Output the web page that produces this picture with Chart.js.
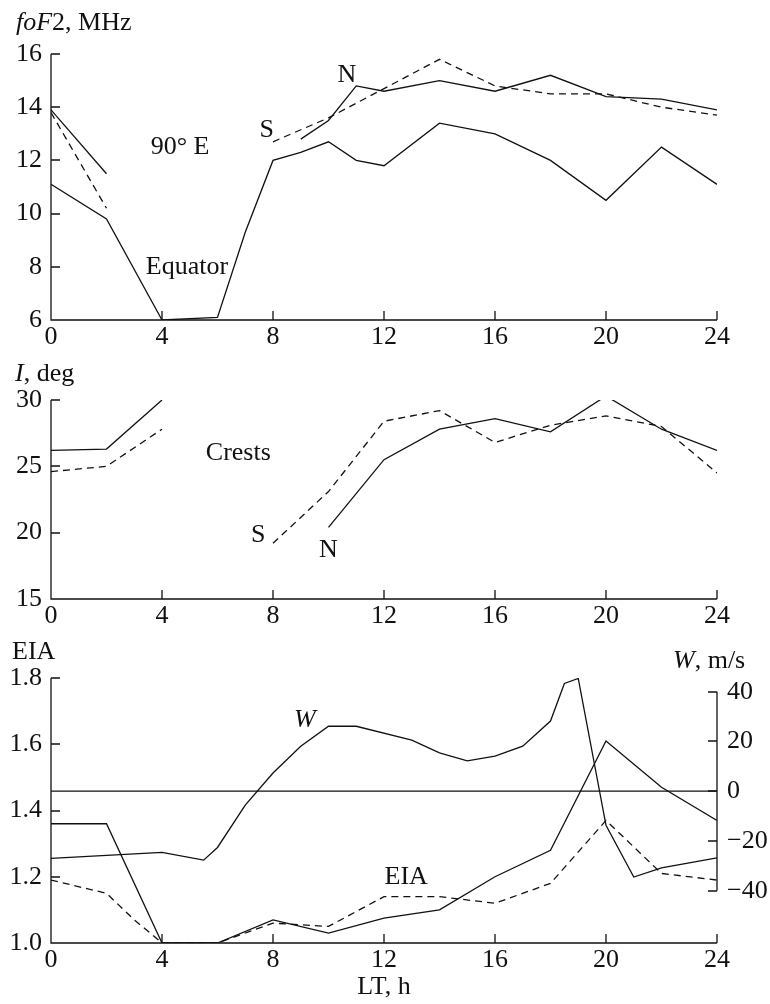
<!DOCTYPE html>
<html>
<head>
<meta charset="utf-8">
<script src="https://cdn.jsdelivr.net/npm/chart.js@4.4.1/dist/chart.umd.min.js"></script>
<style>
  body { margin: 0; background: #fff; width: 770px; height: 1004px; overflow: hidden; position: relative; }
  canvas { position: absolute; left: 0; }
</style>
</head>
<body>
<canvas id="c1" width="770" height="350" style="top:0"></canvas>
<canvas id="c2" width="770" height="280" style="top:350px"></canvas>
<canvas id="c3" width="770" height="374" style="top:630px"></canvas>
<script>
// ---- top panel: foF2, 90 E ----
const eqHours = [0, 2, 4, 6, 7, 8, 9, 10, 11, 12, 14, 16, 18, 20, 22, 24];
const eqFoF2  = [11.1, 9.8, 6.0, 6.1, 9.3, 12.0, 12.3, 12.7, 12.0, 11.8, 13.4, 13.0, 12.0, 10.5, 12.5, 11.1];
const nHoursNight = [0, 2];
const nFoF2Night  = [13.9, 11.5];
const sHoursNight = [0, 2];
const sFoF2Night  = [13.8, 10.2];
const nHoursDay = [9, 10, 11, 12, 14, 16, 18, 20, 22, 24];
const nFoF2Day  = [12.8, 13.5, 14.8, 14.6, 15.0, 14.6, 15.2, 14.4, 14.3, 13.9];
const sHoursDay = [8, 10, 12, 14, 16, 18, 20, 22, 24];
const sFoF2Day  = [12.7, 13.6, 14.7, 15.8, 14.8, 14.5, 14.5, 14.0, 13.7];
const foF2Ticks = [6, 8, 10, 12, 14, 16];

// ---- middle panel: crest inclination ----
const nIHoursNight = [0, 2, 4];
const nINight      = [26.2, 26.3, 30.0];
const sIHoursNight = [0, 2, 4];
const sINight      = [24.6, 25.0, 27.8];
const nIHoursDay = [10, 12, 14, 16, 18, 20, 22, 24];
const nIDay      = [20.4, 25.5, 27.8, 28.6, 27.6, 30.3, 27.8, 26.2];
const sIHoursDay = [8, 10, 12, 14, 16, 18, 20, 22, 24];
const sIDay      = [19.2, 23.1, 28.4, 29.2, 26.8, 28.1, 28.8, 28.0, 24.5];
const incTicks = [15, 20, 25, 30];

// ---- bottom panel: EIA and drift W ----
const eiaHours = [0, 2, 4, 6, 8, 10, 12, 14, 16, 18, 20, 22, 24];
const eiaSolid = [1.36, 1.36, 1.0, 1.0, 1.07, 1.03, 1.075, 1.10, 1.20, 1.28, 1.61, 1.47, 1.37];
const eiaDashHours = [0, 2, 3, 4, 6, 8, 10, 12, 14, 16, 18, 20, 22, 24];
const eiaDashed    = [1.19, 1.15, 1.07, 1.0, 1.0, 1.06, 1.05, 1.14, 1.14, 1.12, 1.18, 1.37, 1.21, 1.19];
const wHours  = [0, 4, 5.5, 6, 7, 8, 9, 10, 11, 13, 14, 15, 16, 17, 18, 18.5, 19, 20, 21, 22, 24];
const wValues = [-27.0, -24.6, -27.7, -22.6, -5.6, 7.3, 18.1, 26.1, 26.1, 20.5, 15.4, 12.2, 14.1, 18.1, 28.2, 43.3, 45.3, -13.7, -34.5, -30.8, -26.8];
const eiaTicks = [1.0, 1.2, 1.4, 1.6, 1.8];
const wTicks = [-40, -20, 0, 20, 40];

const hourTicks = [0, 4, 8, 12, 16, 20, 24];

const ink = '#111';
const FONT = '"Liberation Serif", "Times New Roman", serif';
const SIZE = 26;

function pts(xs, ys) {
  return xs.map((x, i) => ({ x: x, y: ys[i] }));
}

function line(xs, ys, dashed, axis) {
  return {
    data: pts(xs, ys),
    borderColor: ink,
    borderWidth: 1.3,
    borderDash: dashed ? [7, 5] : [],
    pointRadius: 0,
    tension: 0,
    yAxisID: axis || 'y'
  };
}

function rich(ctx, parts, x, y, align) {
  let w = 0;
  parts.forEach(p => {
    ctx.font = (p[1] ? 'italic ' : '') + SIZE + 'px ' + FONT;
    w += ctx.measureText(p[0]).width;
  });
  if (align === 'center') x -= w / 2;
  parts.forEach(p => {
    ctx.font = (p[1] ? 'italic ' : '') + SIZE + 'px ' + FONT;
    ctx.fillText(p[0], x, y);
    x += ctx.measureText(p[0]).width;
  });
}

// axis lines with inward ticks, plus the text on the panel
const frame = {
  id: 'frame',
  afterDatasetsDraw(chart, args, opts) {
    const ctx = chart.ctx, a = chart.chartArea;
    const sx = chart.scales.x, sy = chart.scales.y, s2 = chart.scales.y2;
    ctx.save();
    ctx.strokeStyle = ink;
    ctx.lineWidth = 1.3;
    ctx.setLineDash([]);
    ctx.beginPath();
    ctx.moveTo(a.left, a.top);
    ctx.lineTo(a.left, a.bottom);
    ctx.lineTo(a.right, a.bottom);
    sx.ticks.forEach(t => {
      const px = Math.round(sx.getPixelForValue(t.value));
      if (px <= a.left + 1) return;
      ctx.moveTo(px, a.bottom);
      ctx.lineTo(px, a.bottom - 9);
    });
    sy.ticks.forEach(t => {
      const py = Math.round(sy.getPixelForValue(t.value));
      ctx.moveTo(a.left, py);
      ctx.lineTo(a.left + 9, py);
    });
    if (s2) {
      const top = s2.getPixelForValue(wTicks[wTicks.length - 1]);
      const bot = s2.getPixelForValue(wTicks[0]);
      ctx.moveTo(a.right, top);
      ctx.lineTo(a.right, bot);
      s2.ticks.forEach(t => {
        const py = Math.round(s2.getPixelForValue(t.value));
        ctx.moveTo(a.right, py);
        ctx.lineTo(a.right - 9, py);
      });
    }
    ctx.stroke();

    ctx.fillStyle = ink;
    ctx.textBaseline = 'alphabetic';
    (opts.titles || []).forEach(t => rich(ctx, t.parts, t.x, t.y, t.align));
    ctx.textBaseline = 'middle';
    (opts.notes || []).forEach(n => {
      const sc = chart.scales[n.axis || 'y'];
      rich(ctx, n.parts, sx.getPixelForValue(n.h), sc.getPixelForValue(n.v), 'center');
    });
    ctx.restore();
  }
};

function fixTicks(list) {
  return function (scale) { scale.ticks = list.map(v => ({ value: v })); };
}

function baseOptions(cfg) {
  const scales = {
    x: {
      type: 'linear', min: 0, max: 24,
      afterBuildTicks: fixTicks(hourTicks),
      afterFit: s => { s.height = cfg.xHeight; },
      grid: { display: false, drawTicks: false },
      border: { display: false },
      ticks: { color: ink, font: { family: FONT, size: SIZE }, padding: 2, maxRotation: 0, autoSkip: false }
    },
    y: {
      min: cfg.yMin, max: cfg.yMax,
      afterBuildTicks: fixTicks(cfg.yTicks),
      afterFit: s => { s.width = 51; },
      grid: { display: false, drawTicks: false },
      border: { display: false },
      ticks: { color: ink, font: { family: FONT, size: SIZE }, padding: 9, callback: cfg.yFmt || (v => v) }
    }
  };
  if (cfg.y2) {
    scales.y2 = {
      position: 'right',
      min: -61, max: 45.5,
      afterBuildTicks: fixTicks(wTicks),
      afterFit: s => { s.width = 53; },
      grid: { display: false, drawTicks: false },
      border: { display: false },
      ticks: { color: ink, font: { family: FONT, size: SIZE }, padding: 10,
               callback: v => v < 0 ? '\u2212' + Math.abs(v) : String(v) }
    };
  }
  return {
    responsive: false,
    animation: false,
    events: [],
    layout: { padding: { top: cfg.padTop, right: cfg.y2 ? 0 : 53, bottom: 0, left: 0 } },
    plugins: {
      legend: { display: false },
      tooltip: { enabled: false },
      frame: { titles: cfg.titles, notes: cfg.notes }
    },
    scales: scales
  };
}

new Chart(document.getElementById('c1'), {
  type: 'line',
  data: {
    datasets: [
      line(eqHours, eqFoF2, false),
      line(nHoursNight, nFoF2Night, false),
      line(sHoursNight, sFoF2Night, true),
      line(nHoursDay, nFoF2Day, false),
      line(sHoursDay, sFoF2Day, true)
    ]
  },
  options: baseOptions({
    padTop: 54, xHeight: 30, yMin: 6, yMax: 16, yTicks: foF2Ticks,
    titles: [{ parts: [['foF', true], ['2, MHz', false]], x: 16, y: 30 }],
    notes: [
      { parts: [['N', false]], h: 10.66, v: 15.2 },
      { parts: [['S', false]], h: 7.77, v: 13.15 },
      { parts: [['90\u00b0 E', false]], h: 4.65, v: 12.5 },
      { parts: [['Equator', false]], h: 4.9, v: 8.0 }
    ]
  }),
  plugins: [frame]
});

new Chart(document.getElementById('c2'), {
  type: 'line',
  data: {
    datasets: [
      line(nIHoursNight, nINight, false),
      line(sIHoursNight, sINight, true),
      line(nIHoursDay, nIDay, false),
      line(sIHoursDay, sIDay, true)
    ]
  },
  options: baseOptions({
    padTop: 50, xHeight: 31, yMin: 15, yMax: 30, yTicks: incTicks,
    titles: [{ parts: [['I', true], [', deg', false]], x: 15, y: 31 }],
    notes: [
      { parts: [['Crests', false]], h: 6.75, v: 26.0 },
      { parts: [['S', false]], h: 7.47, v: 19.8 },
      { parts: [['N', false]], h: 10.0, v: 18.7 }
    ]
  }),
  plugins: [frame]
});

new Chart(document.getElementById('c3'), {
  type: 'line',
  data: {
    datasets: [
      line(eiaHours, eiaSolid, false),
      line(eiaDashHours, eiaDashed, true),
      line(wHours, wValues, false, 'y2'),
      line([0, 24], [0, 0], false, 'y2')
    ]
  },
  options: baseOptions({
    padTop: 48, xHeight: 61, yMin: 1.0, yMax: 1.8, yTicks: eiaTicks, y2: true,
    yFmt: v => v.toFixed(1),
    titles: [
      { parts: [['EIA', false]], x: 12, y: 29 },
      { parts: [['W', true], [', m/s', false]], x: 673, y: 38 },
      { parts: [['LT, h', false]], x: 384, y: 364, align: 'center' }
    ],
    notes: [
      { parts: [['W', true]], h: 9.15, v: 28.5, axis: 'y2' },
      { parts: [['EIA', false]], h: 12.8, v: 1.2 }
    ]
  }),
  plugins: [frame]
});
</script>
</body>
</html>
